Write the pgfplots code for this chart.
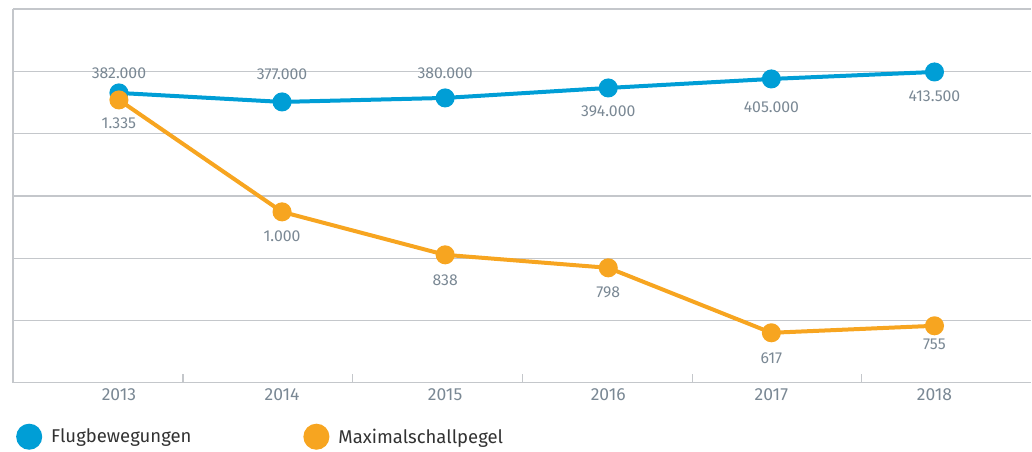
\documentclass[border=0pt]{standalone}
\usepackage{fontspec}
\setmainfont{Fira Sans}
\usepackage{pgfplots}
\pgfplotsset{compat=1.18}
\usepackage{pgfplotstable}
\definecolor{fblue}{RGB}{0,158,214}
\definecolor{forange}{RGB}{247,165,32}
\definecolor{lblgray}{RGB}{122,136,148}
\definecolor{gridgray}{RGB}{196,199,203}
\definecolor{legtext}{RGB}{50,50,50}

% y = vertical position as drawn (axis units), label = value shown
\pgfplotstableread{
x y label dy
0 290 382.000 20
1 281 377.000 28
2 285 380.000 25
3 295 394.000 -23
4 304 405.000 -28
5 311 413.500 -24.5
}\flug
\pgfplotstableread{
x y label dy
0 283 1.335 -23
1 171 1.000 -24
2 128 838 -25
3 115 798 -24
4 50 617 -25
5 57 755 -18.5
}\schall

\begin{document}
\begin{tikzpicture}
\begin{axis}[
  width=1019pt, height=374pt, scale only axis,
  xmin=-0.6495, xmax=5.594, ymin=0, ymax=374,
  axis lines*=left,
  axis line style={gridgray, line width=1.3pt},
  major tick length=0pt,
  ytick={0,62.33,124.67,187,249.33,311.67,374},
  yticklabels={},
  ymajorgrids,
  grid style={gridgray, line width=1.3pt},
  xtick={0,1,2,3,4,5},
  xticklabels={2013,2014,2015,2016,2017,2018},
  xticklabel style={font=\fontsize{17.5}{20}\selectfont, text=lblgray, yshift=-2pt},
  extra x ticks={0.392,1.434,2.475,3.517,4.553},
  extra x tick labels={},
  extra x tick style={major tick length=8.5pt, tick align=inside, tick style={draw=gridgray, line width=1.3pt}},
  clip=false,
  point meta=explicit symbolic,
  visualization depends on={\thisrow{dy} \as \dy},
  nodes near coords={\pgfplotspointmeta},
  nodes near coords style={font=\fontsize{15.8}{18}\selectfont, text=lblgray, anchor=center, yshift=\dy pt},
  legend columns=2,
  legend cell align=left,
  legend image code/.code={\fill (11pt,0pt) circle (11pt);},
  legend style={draw=none, fill=none, at={(axis description cs:0,-0.1444)}, anchor=west,
    font=\fontsize{18.5}{22}\selectfont, text=legtext,
    /tikz/every odd column/.append style={column sep=7pt},
    /tikz/every even column/.append style={column sep=110pt}},
]
\addplot[color=fblue, line width=4pt, mark=*, mark size=7.5pt, mark options={draw=none, fill=fblue}]
  table[x=x, y=y, meta=label] {\flug};
\addlegendentry{Flugbewegungen}
\addplot[color=forange, line width=4pt, mark=*, mark size=7.5pt, mark options={draw=none, fill=forange}]
  table[x=x, y=y, meta=label] {\schall};
\addlegendentry{Maximalschallpegel}
\end{axis}
\path (current axis.south west) ++(-13pt,-67pt) rectangle ([yshift=9pt]current axis.north east);
\end{tikzpicture}
\end{document}
